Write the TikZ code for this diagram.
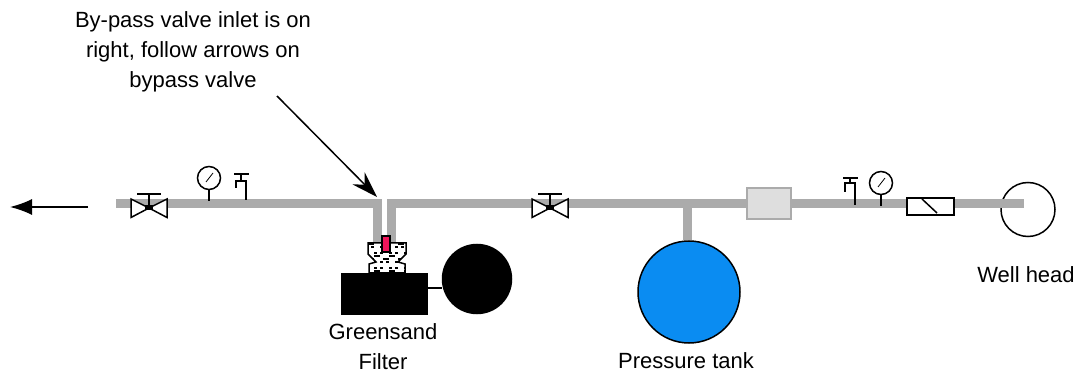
\documentclass[tikz,border=0pt]{standalone}
\usepackage{fontspec}
\setmainfont{Liberation Sans}
\usetikzlibrary{arrows.meta}
\definecolor{pipegray}{HTML}{ABABAB}
\definecolor{tankblue}{HTML}{0A8CF2}
\definecolor{valvered}{HTML}{F0145A}
\tikzset{
    pipe/.style={draw=pipegray,line width=9pt},
    part/.style={black,line width=1.5pt},
    caption/.style={font=\fontsize{22}{30}\selectfont,inner sep=0pt,text=black,align=center},
    vessel/.style={circle,draw=black,line width=1.5pt,inner sep=0pt},
    callout/.style={line width=1.5pt,-{Stealth[length=26pt,width=17pt]}}
}
\begin{document}
\begin{tikzpicture}[x=1pt,y=-1pt]
        \useasboundingbox (0,0) rectangle (1077,374);
        % vessels and boxes
        \node[vessel,fill=tankblue,minimum size=102pt] (tank) at (689,292) {};
        \node[vessel,minimum size=54pt] (well) at (1028,209.5) {};
        \node[draw=black,fill=black,minimum width=86pt,minimum height=41pt,inner sep=0pt] (filter) at (384,293.5) {};
        \node[vessel,fill=black,minimum size=69pt] (brine) at (477,279) {};
        \coordinate (outletend) at (116,203.5);
        \coordinate (leftturn) at (377.5,203.5);
        \coordinate (leftdrop) at (377.5,243);
        \coordinate (rightturn) at (391.5,203.5);
        \coordinate (rightdrop) at (391.5,243);
        \coordinate (wellend) at (1024,203.5);
        \coordinate (tanktee) at (687,203.5);
        % pipes
        \draw[pipe] (outletend) -- (leftturn) -- (leftdrop);
        \draw[pipe] (rightdrop) -- (rightturn) -- (wellend);
        \draw[pipe] (tanktee) -- (tank.north -| tanktee);
        \draw[line width=1.5pt] (filter.east |- 0,288) -- (brine.west |- 0,288);
        \node[draw=pipegray,fill=black!13,line width=1.2pt,minimum width=44pt,minimum height=31pt,inner sep=0pt] (softener) at (769,203.5) {};
        \node[draw=black,fill=white,line width=1.5pt,minimum width=47pt,minimum height=17pt,inner sep=0pt] (meter) at (930.5,206.5) {};
        \draw[part] (922,199) -- (937,213);
        % gate valves
        \foreach \x in {149,550} {
            \draw[part,fill=white] (\x,208) -- (\x-18,199) -- (\x-18,217.5) -- cycle;
            \draw[part,fill=white] (\x,208) -- (\x+18,199) -- (\x+18,217.5) -- cycle;
            \draw[part] (\x,194) -- (\x,208);
            \draw[part] (\x-12,194) -- (\x+12,194);
            \fill[black] (\x-4,205.5) rectangle (\x+4,210.5);
        }
        % gauges
        \foreach \x/\y in {209/178,881/183} {
            \draw[part] (\x,\y) circle[radius=11.5];
            \draw[part] (\x,\y+11.5) -- (\x,\y+23);
            \draw[line width=.8pt] (\x-3,\y+4) -- (\x+4,\y-5);
        }
        % taps
        \draw[part] (234,174) -- (249,174) (241,174) -- (241,181) (236,188) -- (236,181) -- (246,181) -- (246,200);
        \draw[part] (843,178) -- (858,178) (850,178) -- (850,183) (845,192) -- (845,183) -- (855,183) -- (855,205);
        % by-pass valve head
        \draw[line width=1.5pt,fill=white] (368,243) -- (406,243) -- (406,254) -- (398,262) -- (405,264) -- (405,273) -- (369,273) -- (369,264) -- (376,262) -- (368,254) -- cycle;
        \begin{scope}
            \clip (368,243) -- (406,243) -- (406,254) -- (398,262) -- (405,264) -- (405,273) -- (369,273) -- (369,264) -- (376,262) -- (368,254) -- cycle;
            \foreach \i in {0,...,12} {
                \foreach \j in {0,...,10} {
                    \pgfmathtruncatemacro{\speck}{mod(\i*\i*5+\j*\j*3+\i*\j*7+\i,5)}
                    \ifnum\speck<2
                        \fill[black] (368+3*\i,243+3*\j) rectangle ++(2.5,2.5);
                    \fi
                }
            }
        \end{scope}
        \node[draw=black,fill=valvered,line width=1.5pt,minimum width=8pt,minimum height=16pt,inner sep=0pt] (handle) at (386,244) {};
        % flow arrows
        \coordinate (flowstart) at (88,207);
        \coordinate (flowend) at (10,207);
        \draw[line width=1.5pt,-{Latex[length=22pt,width=16pt]}] (flowstart) -- (flowend);
        % labels
        \node[caption] (note) at (193,52) {By-pass valve inlet is on\\right, follow arrows on\\bypass valve};
        \coordinate (notestart) at (277,96);
        \coordinate (noteend) at (377,197);
        \draw[callout] (notestart) -- (noteend);
        \node[caption] (filterlabel) at (383,347) {Greensand\\Filter};
        \node[caption] (tanklabel) at (686,361) {Pressure tank};
        \node[caption] (welllabel) at (1026,275) {Well head};
    \end{tikzpicture}
\end{document}
